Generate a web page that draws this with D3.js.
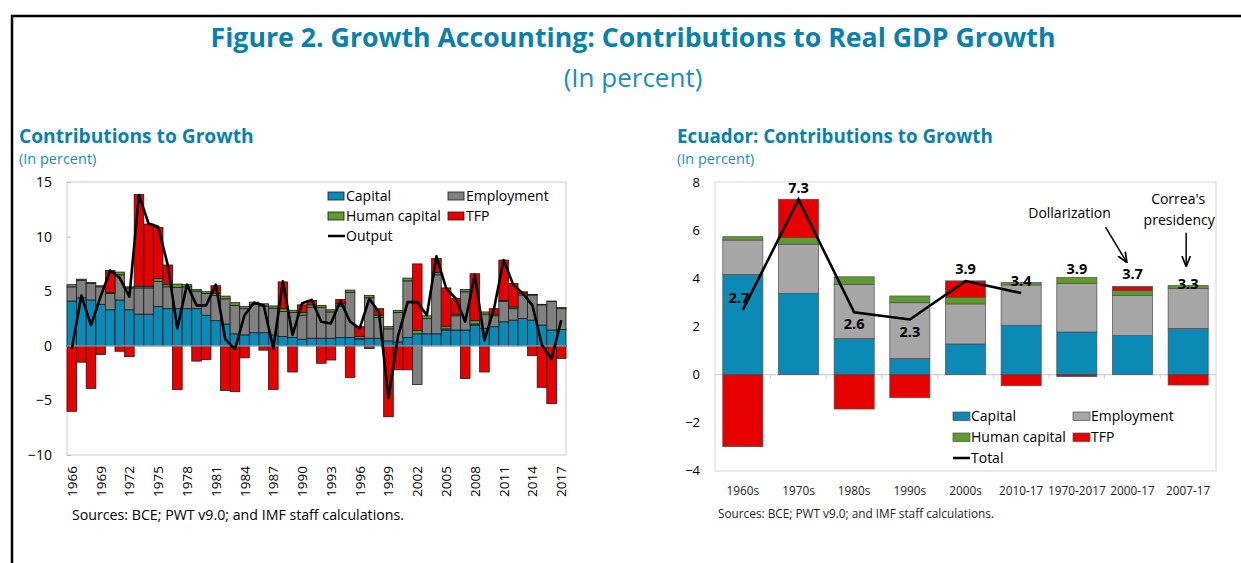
<!DOCTYPE html>
<html>
<head>
<meta charset="utf-8">
<script src="https://cdn.jsdelivr.net/npm/d3@7"></script>
<style>
  body { margin: 0; background: #fff; }
  svg { display: block; }
  text { font-family: "Open Sans", "Noto Sans", sans-serif; }
</style>
</head>
<body>
<svg id="fig" width="1241" height="563"></svg>
<script>
// ---- left panel data: annual contributions, 1966-2017 ----
const years = d3.range(1966, 2018);
const capital = [4.1, 4.4, 4.2, 3.8, 3.3, 4.2, 3.3, 2.9, 2.9, 3.6, 3.4, 3.4, 3.4, 3.4, 2.8, 2.3, 2.0, 1.1, 1.0, 1.2,
  1.2, 1.0, 0.85, 0.75, 0.6, 0.7, 0.7, 0.7, 0.75, 0.75, 0.6, 0.7, 0.7, 0.45, 0.35, 0.75, 1.1, 1.1, 1.1, 1.45,
  1.45, 1.45, 1.9, 1.6, 1.75, 2.2, 2.35, 2.5, 2.35, 1.9, 1.45, 1.5];
const employment = [1.3, 1.6, 1.5, 1.6, 1.5, 2.3, 2.0, 2.4, 2.4, 2.3, 2.0, 1.95, 2.0, 1.6, 2.0, 2.3, 2.3, 2.6, 2.4, 2.6,
  2.45, 2.45, 2.3, 2.3, 2.2, 2.8, 2.8, 2.4, 2.9, 4.15, 0.05, 3.7, 1.9, 1.1, 2.7, 5.2, -3.55, 1.4, 5.4, 0.1,
  1.3, 3.5, 0.1, 1.3, 1.0, 1.85, 1.05, 2.15, 2.3, 1.85, 2.6, 1.9];
const humanCapital = [0.2, 0.1, 0.1, 0.1, 0.1, 0.25, 0.1, 0.15, 0.15, 0.25, 0.2, 0.3, 0.2, 0.15, 0.15, 0.2, 0.25, 0.25, 0.2, 0.2,
  0.2, 0.2, 0.25, 0.2, 0.25, 0.25, 0.2, 0.2, 0.2, 0.2, 0.2, 0.2, 0.2, 0.2, 0.2, 0.25, 0.3, 0.25, 0.2, 0.25,
  0.15, 0.2, 0.3, 0.2, 0.15, 0.1, 0.15, 0.15, 0.05, 0.05, 0.05, 0.1];
const tfp = [-6.0, -1.5, -3.9, -0.8, 2.0, -0.5, -1.0, 8.4, 5.7, 4.7, 1.8, -4.0, 0.0, -1.4, -1.25, 0.7, -4.1, -4.2, -1.1, 0.0,
  -0.4, -4.0, 2.45, -2.4, 0.7, 0.4, -1.6, -1.3, 0.4, -2.9, 0.9, -0.25, 0.6, -6.5, -2.2, -2.2, 6.1, 0.0, 1.3, 3.5,
  1.45, -3.0, 4.3, -2.4, 0.5, 3.7, 2.15, 0.15, -0.9, -3.8, -5.3, -1.15];
const output = [-0.3, 4.6, 1.9, 4.5, 6.9, 6.2, 4.5, 13.8, 11.2, 10.9, 7.4, 1.6, 5.6, 3.7, 3.7, 5.6, 0.6, -0.3, 2.8, 3.95,
  3.7, -0.25, 5.9, 1.0, 3.9, 4.2, 2.2, 2.05, 4.1, 2.2, 1.6, 4.3, 3.1, -4.8, 0.9, 4.0, 4.0, 2.8, 8.2, 5.3,
  4.35, 2.2, 6.5, 0.5, 3.4, 7.85, 5.6, 4.8, 3.7, 0.05, -1.2, 2.35];
const leftTicks = [15, 10, 5, 0, -5, -10];

// ---- right panel data: Ecuador, period averages ----
const periods = ["1960s", "1970s", "1980s", "1990s", "2000s", "2010-17", "1970-2017", "2000-17", "2007-17"];
const ecCapital = [4.18, 3.39, 1.51, 0.68, 1.28, 2.06, 1.78, 1.63, 1.93];
const ecEmployment = [1.43, 2.05, 2.25, 2.32, 1.67, 1.68, 2.03, 1.68, 1.67];
const ecHumanCapital = [0.14, 0.27, 0.32, 0.28, 0.28, 0.1, 0.24, 0.19, 0.12];
const ecTfp = [-3.0, 1.6, -1.43, -0.96, 0.68, -0.46, -0.08, 0.18, -0.43];
const ecTotal = [2.7, 7.3, 2.6, 2.3, 3.9, 3.4, 3.9, 3.7, 3.3];
const ecLinePeriods = ["1960s", "1970s", "1980s", "1990s", "2000s", "2010-17"];
const rightTicks = [8, 6, 4, 2, 0, -2, -4];

const keys = ["capital", "employment", "human", "tfp"];
const names = { capital: "Capital", employment: "Employment", human: "Human capital", tfp: "TFP" };
const blue = "#0a8ab5", green = "#5f9a2e", red = "#e60000";
const leftColors = { capital: blue, employment: "#808080", human: green, tfp: red };
const rightColors = { capital: blue, employment: "#a6a6a6", human: green, tfp: red };
const titleColor = "#0b80ab";

const svg = d3.select("#fig");

// figure frame and titles
svg.append("path").attr("d", "M12,563 V16 H1245").attr("fill", "none").attr("stroke", "#000").attr("stroke-width", 2.5);
svg.append("text").attr("x", 633).attr("y", 47).attr("text-anchor", "middle")
  .attr("font-size", 26.7).attr("font-weight", 700).attr("fill", titleColor)
  .text("Figure 2. Growth Accounting: Contributions to Real GDP Growth");
svg.append("text").attr("x", 633).attr("y", 87).attr("text-anchor", "middle")
  .attr("font-size", 26).attr("fill", "#1a8cc0").text("(In percent)");

function panelTitle(x, title, size) {
  svg.append("text").attr("x", x).attr("y", 143).attr("font-size", size).attr("font-weight", 700)
    .attr("fill", titleColor).text(title);
  svg.append("text").attr("x", x).attr("y", 164).attr("font-size", 14.5).attr("fill", "#1a8cc0").text("(In percent)");
}
panelTitle(19, "Contributions to Growth", 19.2);
panelTitle(677, "Ecuador: Contributions to Growth", 18.8);

// ================= left panel =================
{
  const rows = years.map((yr, i) => ({ year: yr, capital: capital[i], employment: employment[i], human: humanCapital[i], tfp: tfp[i] }));
  const series = d3.stack().keys(keys).offset(d3.stackOffsetDiverging)(rows);

  const x = d3.scaleBand().domain(years).range([67, 566]).padding(0);
  const y = d3.scaleLinear().domain([-10, 15]).range([455, 182]);
  const g = svg.append("g");

  g.append("rect").attr("x", 67).attr("y", 182).attr("width", 499).attr("height", 273)
    .attr("fill", "none").attr("stroke", "#d4d4d4").attr("stroke-width", 1.2);

  const yAxis = g.append("g").attr("transform", "translate(67,0)")
    .call(d3.axisLeft(y).tickValues(leftTicks).tickSize(-4).tickPadding(15));
  yAxis.select(".domain").remove();
  yAxis.selectAll("line").attr("stroke", "#bbb");
  yAxis.selectAll("text").attr("font-size", 14).attr("fill", "#000").attr("font-family", "'Open Sans', sans-serif");

  g.selectAll("g.layer").data(series).join("g").attr("class", "layer")
    .attr("fill", d => leftColors[d.key])
    .selectAll("rect").data(d => d).join("rect")
      .attr("x", d => x(d.data.year))
      .attr("width", x.bandwidth())
      .attr("y", d => y(Math.max(d[0], d[1])))
      .attr("height", d => Math.abs(y(d[0]) - y(d[1])))
      .attr("stroke", "#1a1a1a").attr("stroke-width", 0.8);

  g.append("line").attr("x1", 67).attr("x2", 566).attr("y1", y(0)).attr("y2", y(0))
    .attr("stroke", "#a6a6a6").attr("stroke-width", 1.2);

  const line = d3.line().x((d, i) => x(years[i]) + x.bandwidth() / 2).y(d => y(d));
  g.append("path").datum(output).attr("d", line).attr("fill", "none")
    .attr("stroke", "#000").attr("stroke-width", 2.6).attr("stroke-linejoin", "round");

  // rotated year labels every 3 years
  const labelYears = years.filter(yr => (yr - 1966) % 3 === 0);
  g.selectAll("text.yr").data(labelYears).join("text").attr("class", "yr")
    .attr("transform", d => `translate(${x(d) + x.bandwidth() / 2 + 5},466) rotate(-90)`)
    .attr("text-anchor", "end").attr("font-size", 13.5).attr("fill", "#000").text(d => d);

  // legend
  const leg = [
    { k: "capital", x: 328, y: 196 }, { k: "employment", x: 448, y: 196 },
    { k: "human", x: 328, y: 216 }, { k: "tfp", x: 448, y: 216 }
  ];
  leg.forEach(l => {
    g.append("rect").attr("x", l.x).attr("y", l.y - 4).attr("width", 16).attr("height", 8)
      .attr("fill", leftColors[l.k]).attr("stroke", "#1a1a1a").attr("stroke-width", 0.8);
    g.append("text").attr("x", l.x + 18).attr("y", l.y + 5).attr("font-size", 14).text(names[l.k]);
  });
  g.append("line").attr("x1", 328).attr("x2", 345).attr("y1", 236).attr("y2", 236).attr("stroke", "#000").attr("stroke-width", 2.5);
  g.append("text").attr("x", 346).attr("y", 241).attr("font-size", 14).text("Output");

  g.append("text").attr("x", 72).attr("y", 520).attr("font-size", 14.2).attr("fill", "#000")
    .text("Sources: BCE; PWT v9.0; and IMF staff calculations.");
}

// ================= right panel =================
{
  const rows = periods.map((p, i) => ({ period: p, capital: ecCapital[i], employment: ecEmployment[i], human: ecHumanCapital[i], tfp: ecTfp[i] }));
  const series = d3.stack().keys(keys).offset(d3.stackOffsetDiverging)(rows);

  const x = d3.scaleBand().domain(periods).range([715, 1216]).paddingInner(0.28).paddingOuter(0.14);
  const y = d3.scaleLinear().domain([-4, 8]).range([470.7, 182.7]);
  const g = svg.append("g");
  const cx = p => x(p) + x.bandwidth() / 2;

  g.append("rect").attr("x", 715).attr("y", 182).attr("width", 501).attr("height", 289)
    .attr("fill", "none").attr("stroke", "#dcdcdc").attr("stroke-width", 1.2);

  const yAxis = g.append("g").attr("transform", "translate(715,0)")
    .call(d3.axisLeft(y).tickValues(rightTicks).tickSize(0).tickPadding(15));
  yAxis.select(".domain").remove();
  yAxis.selectAll("text").attr("font-size", 13).attr("fill", "#000").attr("font-family", "'Open Sans', sans-serif");

  // zero line with ticks between categories
  g.append("line").attr("x1", 715).attr("x2", 1216).attr("y1", y(0)).attr("y2", y(0)).attr("stroke", "#d0d0d0").attr("stroke-width", 1.2);
  g.selectAll("line.sep").data(periods.slice(1)).join("line").attr("class", "sep")
    .attr("x1", d => x(d) - x.step() * x.paddingInner() / 2).attr("x2", d => x(d) - x.step() * x.paddingInner() / 2)
    .attr("y1", y(0)).attr("y2", y(0) + 4).attr("stroke", "#d0d0d0");

  g.selectAll("g.layer").data(series).join("g").attr("class", "layer")
    .attr("fill", d => rightColors[d.key])
    .selectAll("rect").data(d => d).join("rect")
      .attr("x", d => x(d.data.period))
      .attr("width", x.bandwidth())
      .attr("y", d => y(Math.max(d[0], d[1])))
      .attr("height", d => Math.abs(y(d[0]) - y(d[1])))
      .attr("stroke", "#4d4d4d").attr("stroke-width", 0.7);

  const lineData = ecLinePeriods.map(p => ({ p, v: ecTotal[periods.indexOf(p)] }));
  g.append("path").datum(lineData)
    .attr("d", d3.line().x(d => cx(d.p)).y(d => y(d.v)))
    .attr("fill", "none").attr("stroke", "#000").attr("stroke-width", 2.6);

  // total labels
  const below = ["1980s", "1990s"];
  g.selectAll("text.tot").data(periods).join("text").attr("class", "tot")
    .attr("x", (d, i) => cx(d) - (i === 0 ? 4 : 0))
    .attr("y", (d, i) => y(ecTotal[i]) + (below.includes(d) ? 12 : -12) + 5)
    .attr("text-anchor", "middle").attr("font-size", 14.5).attr("font-weight", 700).attr("fill", "#000")
    .text((d, i) => ecTotal[i].toFixed(1));

  // category labels
  g.selectAll("text.cat").data(periods).join("text").attr("class", "cat")
    .attr("x", d => cx(d)).attr("y", 495).attr("text-anchor", "middle").attr("font-size", 11.8).attr("fill", "#222").text(d => d);

  // annotations
  const defs = svg.append("defs");
  defs.append("marker").attr("id", "arr").attr("viewBox", "0 0 10 10").attr("refX", 9).attr("refY", 5)
    .attr("markerWidth", 7).attr("markerHeight", 7).attr("orient", "auto")
    .append("path").attr("d", "M0,1 L10,5 L0,9").attr("fill", "none").attr("stroke", "#000").attr("stroke-width", 1.6);

  const dx = cx("2000-17");
  g.append("text").attr("x", dx - 63).attr("y", y(6.74) + 5).attr("text-anchor", "middle").attr("font-size", 14).text("Dollarization");
  g.append("line").attr("x1", dx - 27).attr("y1", y(6.15)).attr("x2", dx - 6).attr("y2", y(4.7))
    .attr("stroke", "#000").attr("stroke-width", 1.5).attr("marker-end", "url(#arr)");

  const cxr = cx("2007-17");
  g.append("text").attr("x", cxr - 10).attr("y", y(7.33) + 5).attr("text-anchor", "middle").attr("font-size", 14).text("Correa's");
  g.append("text").attr("x", cxr - 9).attr("y", y(6.45) + 5).attr("text-anchor", "middle").attr("font-size", 14).text("presidency");
  g.append("line").attr("x1", cxr - 2).attr("y1", y(5.91)).attr("x2", cxr - 2).attr("y2", y(4.55))
    .attr("stroke", "#000").attr("stroke-width", 1.5).attr("marker-end", "url(#arr)");

  // legend
  const leg = [
    { k: "capital", x: 953, y: 416 }, { k: "employment", x: 1073, y: 416 },
    { k: "human", x: 953, y: 437 }, { k: "tfp", x: 1073, y: 437 }
  ];
  leg.forEach(l => {
    g.append("rect").attr("x", l.x).attr("y", l.y - 4).attr("width", 17).attr("height", 8.5)
      .attr("fill", rightColors[l.k]).attr("stroke", "#4d4d4d").attr("stroke-width", 0.7);
    g.append("text").attr("x", l.x + 18).attr("y", l.y + 5).attr("font-size", 14).text(names[l.k]);
  });
  g.append("line").attr("x1", 953).attr("x2", 970).attr("y1", 458).attr("y2", 458).attr("stroke", "#000").attr("stroke-width", 2.5);
  g.append("text").attr("x", 971).attr("y", 463).attr("font-size", 14).text("Total");

  g.append("text").attr("x", 718).attr("y", 518).attr("font-size", 11.8).attr("fill", "#222")
    .text("Sources: BCE; PWT v9.0; and IMF staff calculations.");
}
</script>
</body>
</html>
